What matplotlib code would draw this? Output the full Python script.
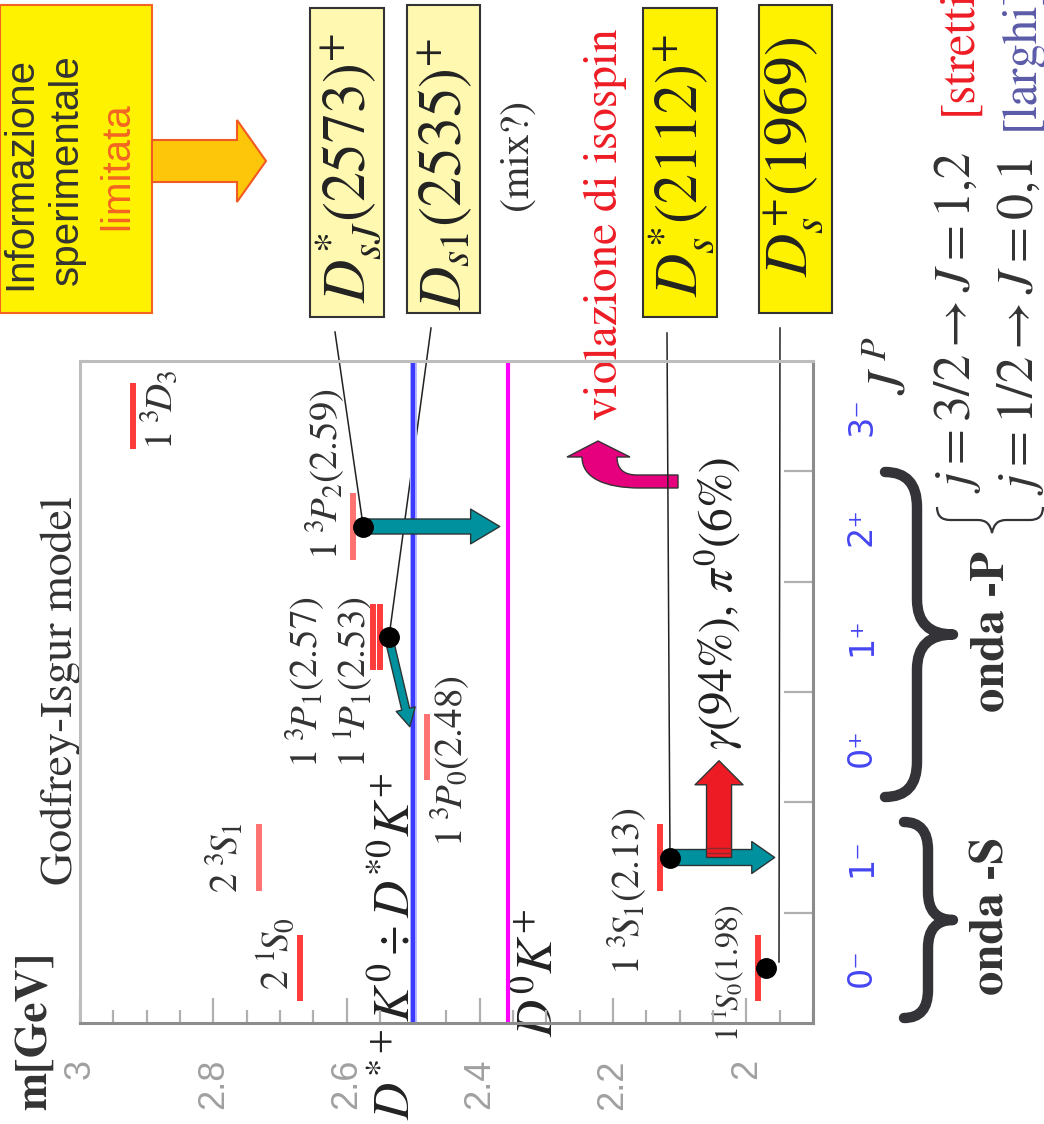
import matplotlib
matplotlib.use('Agg')
import matplotlib.pyplot as plt
from matplotlib.path import Path
from matplotlib.patches import PathPatch, Rectangle, Polygon
from matplotlib.ticker import MultipleLocator

plt.rcParams['mathtext.fontset'] = 'stix'
plt.rcParams['font.family'] = 'STIXGeneral'

# J^P columns (bottom to top in the rotated picture)
jp_labels = ['0⁻', '1⁻', '0⁺', '1⁺', '2⁺', '3⁻']

# Godfrey-Isgur model levels
gi_names = ['2 1S0', '1 1S0', '2 3S1', '1 3S1', '1 3P0', '1 3P1', '1 1P1', '1 3P2', '1 3D3']
gi_mass = [2.670, 1.982, 2.732, 2.130, 2.480, 2.560, 2.550, 2.591, 2.921]
gi_jp = [0, 0, 1, 1, 2, 3, 3, 4, 5]
gi_color = ['#ff3c3c', '#ff3c3c', '#ff7272', '#ff3c3c', '#ff7272',
            '#ff3c3c', '#ff3c3c', '#ff7272', '#ff3c3c']

# observed D_s states
ds_names = ['Ds(1969)', 'Ds*(2112)', 'Ds1(2535)', 'DsJ*(2573)']
ds_mass = [1.970, 2.115, 2.537, 2.576]
ds_jp = [0, 1, 3, 4]

# thresholds D*K and D0K+
thr_mass = [2.500, 2.358]
thr_color = ['#3b3bff', '#ff00ff']

mass_ticks = [3.0, 2.8, 2.6, 2.4, 2.2, 2.0]
mass_ticklabels = ['3', '2.8', '2.6', '2.4', '2.2', '2']

W, H = 1044, 1124
fig = plt.figure(figsize=(W / 100, H / 100), dpi=100)

# overlay in pixel coordinates for the slide decorations
ov = fig.add_axes([0, 0, 1, 1], zorder=0)
ov.set_xlim(0, W)
ov.set_ylim(H, 0)
ov.axis('off')

# main axes: x = mass (reversed), y = J^P column
ax = fig.add_axes([80 / W, 1 - 1023 / H, 733 / W, 662 / H], zorder=1)
ax.patch.set_alpha(0)
ax.set_xlim(3.0, 1.90)
ax.set_ylim(-0.5, 5.5)

for side, col in [('left', '#bdbdbd'), ('top', '#bdbdbd'),
                  ('bottom', '#8c8c8c'), ('right', '#8c8c8c')]:
    ax.spines[side].set_color(col)
    ax.spines[side].set_linewidth(2.2)

ax.set_xticks(mass_ticks, mass_ticklabels)
ax.xaxis.set_minor_locator(MultipleLocator(0.05))
ax.tick_params(axis='x', which='major', direction='in', length=18, width=1.6,
               color='#b0b0b0', pad=26, labelsize=26, labelcolor='#a0a0a0',
               labelrotation=90)
ax.tick_params(axis='x', which='minor', direction='in', length=9.5, width=1.6,
               color='#b0b0b0')
for t in ax.get_xticklabels():
    t.set_fontfamily('Liberation Sans')

ax.set_yticks([0.5, 1.5, 2.5, 3.5, 4.5])
ax.set_yticks(range(len(jp_labels)), jp_labels, minor=True)
ax.tick_params(axis='y', which='major', direction='in', length=21, width=1.6,
               color='#b0b0b0', left=False, right=True,
               labelleft=False, labelright=False)
ax.tick_params(axis='y', which='minor', length=0, left=False, right=True,
               labelleft=False, labelright=True, pad=23, labelsize=24,
               labelcolor='#4646f2', labelrotation=90)
for t in ax.get_yticklabels(minor=True):
    t.set_fontfamily('DejaVu Sans')
    t.set_va('center')
    t.set_ha('left')

# thresholds
ax.axvline(thr_mass[0], color='#b8b8ff', lw=5, zorder=2)
for m, c in zip(thr_mass, thr_color):
    ax.axvline(m, color=c, lw=3.0, zorder=2)

# model levels
for m, j, c in zip(gi_mass, gi_jp, gi_color):
    ax.vlines(m, j - 0.3, j + 0.3, color=c, lw=4.3, zorder=3)


def fat_arrow(x0, y0, x1, y1, tail, head_w, head_l, fc, z):
    ax.annotate('', xy=(x1, y1), xytext=(x0, y0), zorder=z,
                arrowprops=dict(arrowstyle='simple,head_length=%g,head_width=%g,tail_width=%g'
                                % (head_l, head_w, tail),
                                fc=fc, ec='#2b3535', lw=1.0, shrinkA=0, shrinkB=0,
                                mutation_scale=1))


teal = '#00919e'
fat_arrow(ds_mass[3], ds_jp[3], 2.370, 4.0, 10.8, 25, 21, teal, 4)
fat_arrow(ds_mass[2], ds_jp[2], 2.505, 2.185, 5.8, 14, 13, teal, 4)
fat_arrow(ds_mass[1], ds_jp[1], 1.9575, 1.0, 11.5, 23, 16.5, teal, 4)
fat_arrow(2.041, 1.0, 2.041, 1.877, 18, 34.5, 17.3, '#ed1c24', 5)
# stripes at the tail of the red arrow
ax.hlines([1.04, 1.085], 2.0595, 2.0225, color='#8a2a2a', lw=1.0, zorder=5)

ax.plot(ds_mass, ds_jp, 'o', color='black', ms=14, zorder=6, clip_on=False)


def vtext(x, y, s, size, color='#333333', **kw):
    ov.text(x, y, s, fontsize=size, color=color, rotation=90,
            rotation_mode='anchor', ha='left', va='baseline', **kw)


# level labels
vtext(173, 450, r'$1\;{}^{3}\!D_{3}$', 28)
vtext(338, 560, r'$1\;{}^{3}\!P_{2}(2.59)$', 28)
vtext(318, 768, r'$1\;{}^{3}\!P_{1}(2.57)$', 28)
vtext(367, 768, r'$1\;{}^{1}\!P_{1}(2.53)$', 28)
vtext(463, 847, r'$1\;{}^{3}\!P_{0}(2.48)$', 28)
vtext(238, 893, r'$2\;{}^{3}\!S_{1}$', 28)
vtext(288, 990, r'$2\;{}^{1}\!S_{0}$', 28)
vtext(640, 975, r'$1\;{}^{3}\!S_{1}(2.13)$', 28)
vtext(738, 1042, r'$1\;{}^{1}\!S_{0}(1.98)$', 23)

vtext(72, 885, 'Godfrey-Isgur model', 33)
vtext(46, 1110, 'm[GeV]', 33, fontweight='bold')
vtext(410, 1120, r'$D^{*+}K^{0}\div D^{*0}K^{+}$', 37, color='#222222')
vtext(553, 1037, r'$D^{0}K^{+}$', 37, color='#222222')
vtext(733, 750, r'$\gamma(94\%),\,\pi^{0}(6\%)$', 34, color='#222222')
vtext(617, 420, 'violazione di isospin', 34, color='#ee1c25')

# lines from the boxes to the measured states
ov.plot([335, 363], [332, 525], color='#222222', lw=1.1)
ov.plot([431, 389], [328, 637], color='#222222', lw=1.1)
ov.plot([667, 670], [333, 858], color='#222222', lw=1.1)
ov.plot([780, 779], [328, 962], color='#222222', lw=1.1)

# boxes with the states
ov.add_patch(Rectangle((0, 5), 152, 308, fc='#fff200', ec='#f26522', lw=1.5))
ov.add_patch(Polygon([(152, 140), (237, 140), (237, 120), (266, 161),
                      (237, 202), (237, 182), (152, 182)],
                     closed=True, fc='#fdc60a', ec='#f15a22', lw=1.5))
vtext(31, 290, 'Informazione', 29, fontfamily='Liberation Sans')
vtext(78, 285, 'sperimentale', 29, fontfamily='Liberation Sans')
vtext(128, 230, 'limitata', 29, color='#f26522', fontfamily='Liberation Sans')

ov.add_patch(Rectangle((310, 8), 74, 309, fc='#fff8b0', ec='#333333', lw=1.5))
ov.add_patch(Rectangle((407, 5), 73, 308, fc='#fff8b0', ec='#333333', lw=1.5))
ov.add_patch(Rectangle((643, 8), 74, 309, fc='#fff200', ec='#333333', lw=1.5))
ov.add_patch(Rectangle((759, 5), 73, 308, fc='#fff200', ec='#333333', lw=1.5))
vtext(365, 303, r'$D^{*}_{sJ}(2573)^{+}$', 43, color='#222222')
vtext(462, 310, r'$D_{s1}(2535)^{+}$', 43, color='#222222')
vtext(527, 210, '(mix?)', 30)
vtext(698, 297, r'$D^{*}_{s}(2112)^{+}$', 43, color='#222222')
vtext(808, 277, r'$D^{+}_{s}(1969)$', 43, color='#222222')

# bent arrow for the isospin violation
mag = Path([(678, 475), (637, 475), (617, 475), (617, 457), (630, 457),
            (598, 441), (567, 457), (582, 457), (582, 478), (605, 488),
            (640, 488), (678, 488), (678, 475)],
           [Path.MOVETO, Path.LINETO, Path.CURVE3, Path.CURVE3, Path.LINETO,
            Path.LINETO, Path.LINETO, Path.LINETO, Path.CURVE4, Path.CURVE4,
            Path.CURVE4, Path.LINETO, Path.CLOSEPOLY])
ov.add_patch(PathPatch(mag, fc='#e6007e', ec='#333333', lw=1.0))


def vbrace(xb, yt, yb, xt, c, r, lw):
    ym = (yt + yb) / 2
    verts = [(xb - c, yt), (xb, yt), (xb, yt + r), (xb, ym - r), (xb, ym),
             (xt, ym), (xb, ym), (xb, ym + r), (xb, yb - r), (xb, yb), (xb - c, yb)]
    codes = [Path.MOVETO, Path.CURVE3, Path.CURVE3, Path.LINETO, Path.CURVE3,
             Path.CURVE3, Path.CURVE3, Path.CURVE3, Path.LINETO, Path.CURVE3, Path.CURVE3]
    ov.add_patch(PathPatch(Path(verts, codes), fc='none', ec='#333338', lw=lw,
                           capstyle='round', joinstyle='round'))


vbrace(917, 472, 797, 953, 32, 35, 7.5)
vbrace(928, 822, 1018, 953, 24, 28, 7.5)

# small brace grouping the two j lines
sb = Path([(937, 507), (937, 520), (950, 520), (978, 520), (990, 520), (992, 533),
           (994, 520), (1006, 520), (1030, 520), (1043, 520), (1043, 507)],
          [Path.MOVETO, Path.CURVE3, Path.CURVE3, Path.LINETO, Path.CURVE3, Path.CURVE3,
           Path.CURVE3, Path.CURVE3, Path.LINETO, Path.CURVE3, Path.CURVE3])
ov.add_patch(PathPatch(sb, fc='none', ec='#333338', lw=1.6))

vtext(1004, 995, 'onda -S', 35, fontweight='bold')
vtext(1004, 712, 'onda -P', 35, fontweight='bold')
vtext(905, 395, r'$J^{\,P}$', 38)
vtext(970, 493, r'$j=3/2\rightarrow J=1{,}2$', 37.5)
vtext(1033, 495, r'$j=1/2\rightarrow J=0{,}1$', 37.5)
vtext(970, 115, '[stretti]', 35, color='#ee1c25')
vtext(1033, 130, '[larghi]', 35, color='#5b5ba8')

fig.savefig('out.png', dpi=100)
